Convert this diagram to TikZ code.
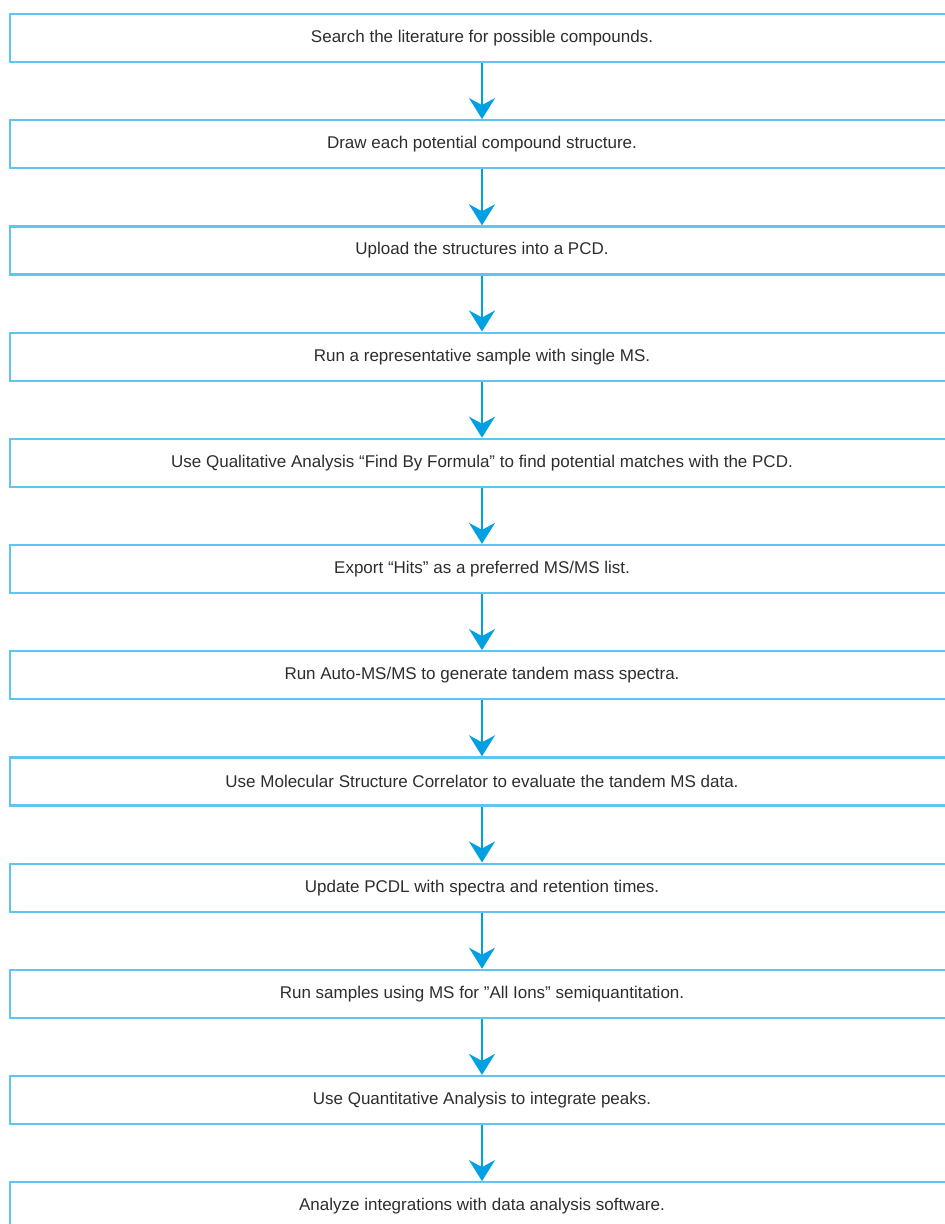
\documentclass[tikz,border=0pt]{standalone}
\usepackage{fontspec}
\setmainfont{Liberation Sans}
\usetikzlibrary{positioning,arrows.meta}
\definecolor{StepBlue}{RGB}{94,196,240}
\definecolor{FlowBlue}{RGB}{0,160,227}
\definecolor{StepText}{RGB}{45,45,45}

\begin{document}
\begin{tikzpicture}[
  x=1pt, y=1pt,
  node distance=56pt,
  every node/.style={font=\fontsize{17}{20}\selectfont, text=StepText},
  stepbox/.style={draw=StepBlue, line width=2.2pt, minimum width=944pt, minimum height=48pt, inner sep=2pt, align=center},
  flow/.style={-{Stealth[length=21pt, width=26pt, inset=7pt]}, line width=2.8pt, FlowBlue}
]
\useasboundingbox (0,0) rectangle (945,-1224);
\node[stepbox] (s1) at (482,-38) {Search the literature for possible compounds.};
\node[stepbox, below=of s1] (s2) {Draw each potential compound structure.};
\node[stepbox, below=of s2] (s3) {Upload the structures into a PCD.};
\node[stepbox, below=of s3] (s4) {Run a representative sample with single MS.};
\node[stepbox, below=of s4] (s5) {Use Qualitative Analysis “Find By Formula” to find potential matches with the PCD.};
\node[stepbox, below=of s5] (s6) {Export “Hits” as a preferred MS/MS list.};
\node[stepbox, below=of s6] (s7) {Run Auto-MS/MS to generate tandem mass spectra.};
\node[stepbox, below=of s7] (s8) {Use Molecular Structure Correlator to evaluate the tandem MS data.};
\node[stepbox, below=of s8] (s9) {Update PCDL with spectra and retention times.};
\node[stepbox, below=of s9] (s10) {Run samples using MS for ”All Ions” semiquantitation.};
\node[stepbox, below=of s10] (s11) {Use Quantitative Analysis to integrate peaks.};
\node[stepbox, below=of s11] (s12) {Analyze integrations with data analysis software.};

\draw[flow] (s1) -- (s2);
\draw[flow] (s2) -- (s3);
\draw[flow] (s3) -- (s4);
\draw[flow] (s4) -- (s5);
\draw[flow] (s5) -- (s6);
\draw[flow] (s6) -- (s7);
\draw[flow] (s7) -- (s8);
\draw[flow] (s8) -- (s9);
\draw[flow] (s9) -- (s10);
\draw[flow] (s10) -- (s11);
\draw[flow] (s11) -- (s12);
\end{tikzpicture}
\end{document}
